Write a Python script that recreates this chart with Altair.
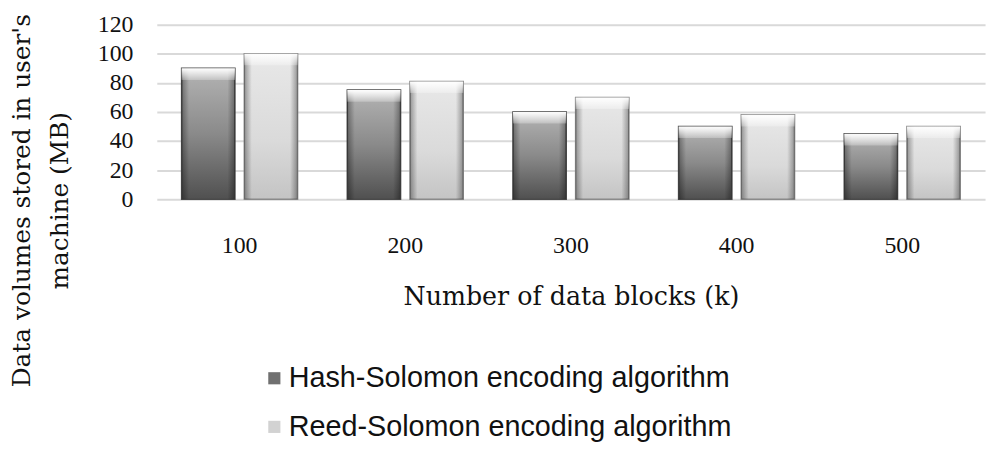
import altair as alt
import pandas as pd

categories = ["100", "200", "300", "400", "500"]
series_names = ["Hash-Solomon encoding algorithm", "Reed-Solomon encoding algorithm"]
hash_values = [90, 75, 60, 50, 45]
reed_values = [100, 81, 70, 58, 50]

rows = []
for c, h, r in zip(categories, hash_values, reed_values):
    rows.append({"blocks": c, "series": series_names[0], "value": h})
    rows.append({"blocks": c, "series": series_names[1], "value": r})
df = pd.DataFrame(rows)

SERIF = "Liberation Serif"
TSERIF = "DejaVu Serif"

x_enc = alt.X("blocks:N", sort=categories,
              scale=alt.Scale(paddingInner=0.3, paddingOuter=0.15),
              axis=alt.Axis(title="Number of data blocks (k)", labelAngle=0,
                            labelFont=SERIF, labelFontSize=24, labelColor="#111",
                            labelPadding=35, domain=False, ticks=False,
                            titleFont=TSERIF, titleFontSize=25.5, titleFontWeight="normal",
                            titleColor="#111", titlePadding=27))
xoff = alt.XOffset("series:N", sort=series_names, scale=alt.Scale(paddingInner=0.15))
y_enc = alt.Y("value:Q", scale=alt.Scale(domain=[0, 120]),
              axis=alt.Axis(values=[0, 20, 40, 60, 80, 100, 120],
                            title=["Data volumes stored in user's", "machine (MB)"],
                            labelFont=SERIF, labelFontSize=24, labelColor="#111",
                            labelPadding=24, domain=False, ticks=False,
                            gridColor="#d9d9d9", gridWidth=2,
                            titleFont=TSERIF, titleFontSize=25, titleFontWeight="normal",
                            titleColor="#111", titleLineHeight=38,
                            titleAngle=-90, titleAlign="center", titleBaseline="middle",
                            titleX=-136, titleY=177))

base = alt.Chart(df)

legend_layer = base.mark_bar().encode(
    x=x_enc, xOffset=xoff, y=y_enc,
    color=alt.Color("series:N", sort=series_names,
                    scale=alt.Scale(domain=series_names, range=["#707070", "#d2d2d2"]),
                    legend=alt.Legend(title=None, orient="none", legendX=104, legendY=342,
                                      direction="vertical", symbolType="square",
                                      symbolSize=150, symbolStrokeWidth=0,
                                      labelFont="Liberation Sans", labelFontSize=29,
                                      labelColor="#111", labelOffset=0, rowPadding=19,
                                      labelLimit=0, symbolOpacity=1))
)

def grad_v(stops):
    return alt.Gradient(gradient="linear", x1=0, x2=0, y1=0, y2=1,
                        stops=[alt.GradientStop(color=c, offset=o) for o, c in stops])

hash_fill = grad_v([(0, "#b4b4b4"), (0.5, "#8a8a8a"), (1, "#505050")])
reed_fill = grad_v([(0, "#e8e8e8"), (0.6, "#dadada"), (1, "#c4c4c4")])

hash_bars = base.transform_filter(alt.datum.series == series_names[0]).mark_bar(
    fill=hash_fill, stroke="#4a4a4a", strokeWidth=1.5
).encode(x=x_enc, xOffset=xoff, y=y_enc)

reed_bars = base.transform_filter(alt.datum.series == series_names[1]).mark_bar(
    fill=reed_fill, stroke="#8a8a8a", strokeWidth=1.5
).encode(x=x_enc, xOffset=xoff, y=y_enc)

side_shade = base.mark_bar(
    fill=alt.Gradient(gradient="linear", x1=0, x2=1, y1=0, y2=0,
                      stops=[alt.GradientStop(color="rgba(0,0,0,0.35)", offset=0),
                             alt.GradientStop(color="rgba(0,0,0,0)", offset=0.14),
                             alt.GradientStop(color="rgba(0,0,0,0)", offset=0.86),
                             alt.GradientStop(color="rgba(0,0,0,0.35)", offset=1)])
).encode(x=x_enc, xOffset=xoff, y=y_enc)

bevel = base.transform_calculate(top2="datum.value - 8").mark_bar(
    fill=grad_v([(0, "#ffffff"), (1, "rgba(255,255,255,0.25)")])
).encode(x=x_enc, xOffset=xoff, y=y_enc, y2="top2:Q")

chart = alt.layer(legend_layer, hash_bars, reed_bars, side_shade, bevel).properties(
    width=835, height=176,
    autosize=alt.AutoSizeParams(type="none"),
    padding={"left": 150, "top": 15, "right": 7, "bottom": 245},
).configure_view(strokeWidth=0)

chart.save("out.html", embed_options={"renderer": "svg", "actions": False})
